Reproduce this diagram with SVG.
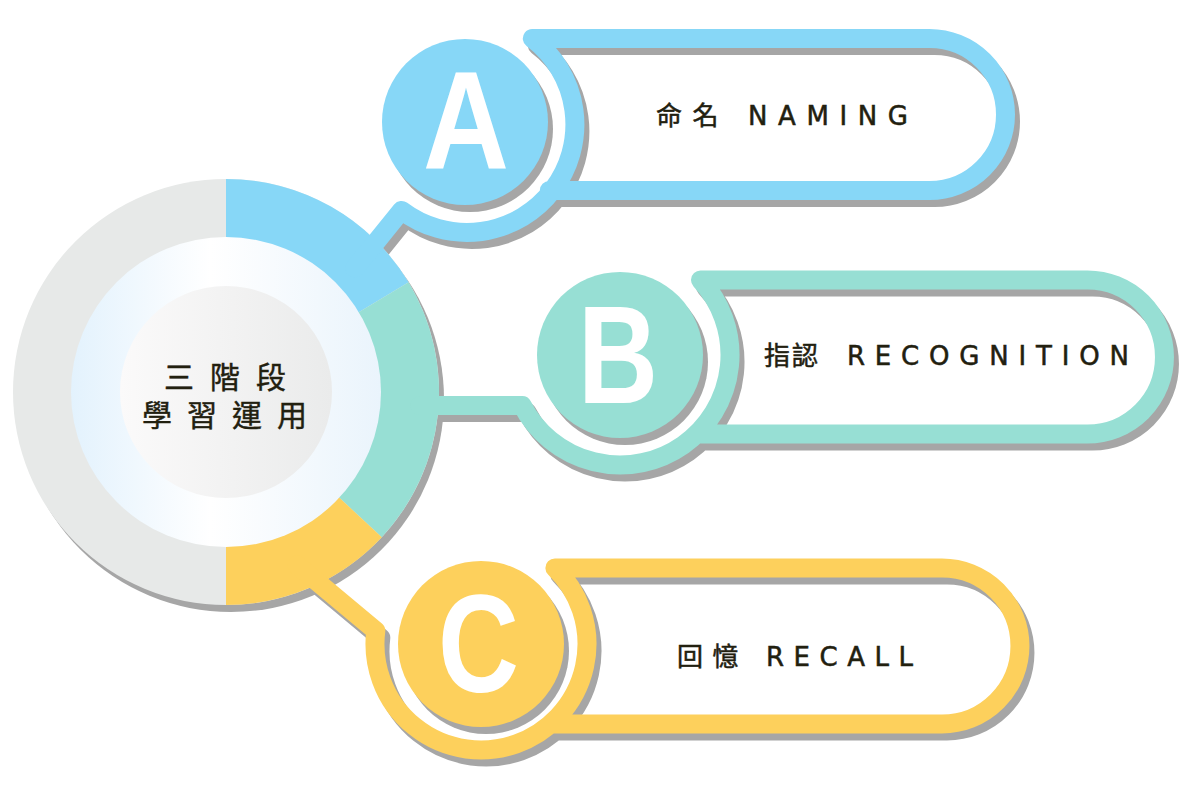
<svg xmlns="http://www.w3.org/2000/svg" width="1189" height="793" viewBox="0 0 1189 793">
<defs>
<linearGradient id="gWhite" x1="0" y1="0" x2="1" y2="0">
<stop offset="0" stop-color="#e3f2fd"/>
<stop offset="0.45" stop-color="#ffffff"/>
<stop offset="1" stop-color="#eaf4fc"/>
</linearGradient>
<linearGradient id="gCore" x1="0" y1="0" x2="1" y2="0">
<stop offset="0" stop-color="#fbfafa"/>
<stop offset="1" stop-color="#eaebeb"/>
</linearGradient>
</defs>
<style>
.band{fill:none;stroke-width:19;stroke-linecap:round;stroke-linejoin:round}
.shadow .band{stroke:#a6a6a6}
.shadow circle{fill:#a6a6a6}
.blue{stroke:#87d7f7}
.teal{stroke:#97dfd4}
.yellow{stroke:#fdd05c}
.lbl{font-family:"DejaVu Sans","Noto Sans CJK TC",sans-serif;font-size:26px;fill:#22200f;stroke:#22200f;stroke-width:0.5}
.ctr{font-family:"Noto Sans CJK TC",sans-serif;font-size:30px;fill:#22200f;stroke:#22200f;stroke-width:0.4}
.letter{font-family:"Liberation Sans",Arial,sans-serif;font-weight:bold;font-size:140px;fill:#ffffff}
</style>
<rect width="1189" height="793" fill="#ffffff"/>

<!-- shadows -->
<g class="shadow" transform="translate(5,7)">
<circle cx="226" cy="392" r="213"/>
<path class="band" d="M 355,268 L 401.5,210.4 A 108 108 0 0 0 532.3,38.5 L 929.5,38.5 A 76 76 0 0 1 929.5,190.5 L 549.3,190.5"/>
<path class="band" d="M 420,405.5 L 522.3,405.5 A 110 110 0 1 0 700.5,280 L 1087.5,280 A 77 77 0 0 1 1087.5,434 L 696.5,434"/>
<path class="band" d="M 297,565 L 375.8,630.8 A 106 106 0 1 0 554.9,568 L 942,568 A 78 78 0 0 1 942,724 L 550.5,724"/>
<circle cx="465" cy="122" r="83"/>
<circle cx="620" cy="355" r="83"/>
<circle cx="481" cy="644" r="83"/>
</g>

<!-- central ring -->
<g id="hub">
<circle cx="226" cy="392" r="213" fill="#e7e9e8"/>
<path d="M226,392 L226,179 A213 213 0 0 1 408.6,282.3 Z" fill="#87d7f7"/>
<path d="M226,392 L408.6,282.3 A213 213 0 0 1 381.8,537.3 Z" fill="#97dfd4"/>
<path d="M226,392 L381.8,537.3 A213 213 0 0 1 226,605 Z" fill="#fdd05c"/>
<circle cx="226" cy="392" r="155" fill="url(#gWhite)"/>
<circle cx="226" cy="392" r="106" fill="url(#gCore)"/>
<text class="ctr" x="164" y="388" textLength="122" lengthAdjust="spacing">三階段</text>
<text class="ctr" x="142" y="426" textLength="165" lengthAdjust="spacing">學習運用</text>
</g>

<!-- connectors / frames -->
<g id="connectors">
<path class="band blue" d="M 355,268 L 401.5,210.4 A 108 108 0 0 0 532.3,38.5 L 929.5,38.5 A 76 76 0 0 1 929.5,190.5 L 549.3,190.5"/>
<path class="band teal" d="M 420,405.5 L 522.3,405.5 A 110 110 0 1 0 700.5,280 L 1087.5,280 A 77 77 0 0 1 1087.5,434 L 696.5,434"/>
<path class="band yellow" d="M 297,565 L 375.8,630.8 A 106 106 0 1 0 554.9,568 L 942,568 A 78 78 0 0 1 942,724 L 550.5,724"/>
</g>

<g id="nodeA">
<circle cx="465" cy="122" r="83" fill="#87d7f7"/>
<text class="letter" x="423" y="169" textLength="86" lengthAdjust="spacingAndGlyphs">A</text>
<text class="lbl" x="656" y="125" textLength="252" lengthAdjust="spacing">命名 NAMING</text>
</g>

<g id="nodeB">
<circle cx="620" cy="355" r="83" fill="#97dfd4"/>
<text class="letter" x="578" y="403" textLength="80" lengthAdjust="spacingAndGlyphs">B</text>
<text class="lbl" y="365"><tspan x="764" letter-spacing="2">指認</tspan><tspan x="847" letter-spacing="9.8">RECOGNITION</tspan></text>
</g>

<g id="nodeC">
<circle cx="481" cy="644" r="83" fill="#fdd05c"/>
<text class="letter" x="438" y="692" textLength="81" lengthAdjust="spacingAndGlyphs">C</text>
<text class="lbl" x="677" y="666" textLength="236" lengthAdjust="spacing">回憶 RECALL</text>
</g>
</svg>
